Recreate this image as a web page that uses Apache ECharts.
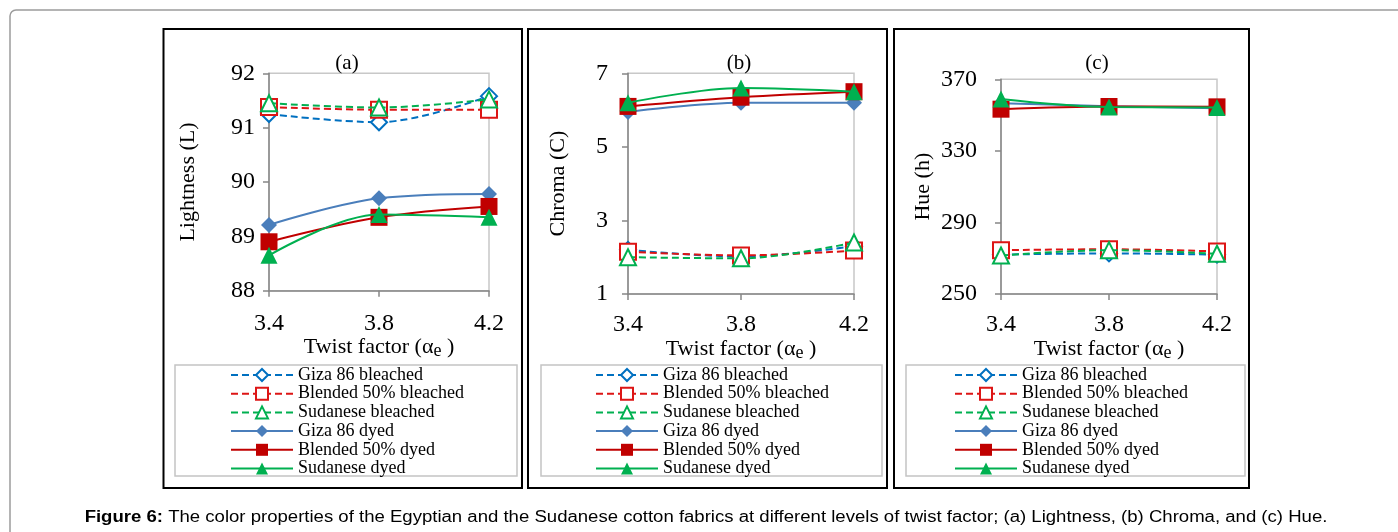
<!DOCTYPE html>
<html>
<head>
<meta charset="utf-8">
<script src="https://cdn.jsdelivr.net/npm/echarts@6/dist/echarts.min.js"></script>
<style>
  html, body { margin: 0; padding: 0; background: #fff; }
  #chart { width: 1398px; height: 532px; }
</style>
</head>
<body>
<div id="chart"></div>
<script>
// ---------- data ----------
const categories = ['3.4', '3.8', '4.2'];
const seriesNames = ['Giza 86 bleached', 'Blended 50% bleached', 'Sudanese bleached',
                     'Giza 86 dyed', 'Blended 50% dyed', 'Sudanese dyed'];

// (a) Lightness (L)
const lightGizaBleached     = [91.25, 91.10, 91.58];
const lightBlendedBleached  = [91.38, 91.33, 91.33];
const lightSudaneseBleached = [91.45, 91.37, 91.52];
const lightGizaDyed         = [89.21, 89.70, 89.78];
const lightBlendedDyed      = [88.90, 89.35, 89.55];
const lightSudaneseDyed     = [88.65, 89.40, 89.35];

// (b) Chroma (C)
const chromaGizaBleached     = [2.20, 2.02, 2.30];
const chromaBlendedBleached  = [2.15, 2.05, 2.18];
const chromaSudaneseBleached = [2.00, 1.97, 2.40];
const chromaGizaDyed         = [5.95, 6.20, 6.20];
const chromaBlendedDyed      = [6.10, 6.35, 6.50];
const chromaSudaneseDyed     = [6.20, 6.60, 6.50];

// (c) Hue (h)
const hueGizaBleached     = [272.0, 272.7, 272.0];
const hueBlendedBleached  = [274.5, 275.0, 273.8];
const hueSudaneseBleached = [271.5, 274.5, 272.5];
const hueGizaDyed         = [356.6, 355.0, 353.8];
const hueBlendedDyed      = [353.3, 354.8, 354.6];
const hueSudaneseDyed     = [359.0, 354.5, 354.3];

// tick labels
const lightTicks  = [88, 89, 90, 91, 92];
const chromaTicks = [1, 3, 5, 7];
const hueTicks    = [250, 290, 330, 370];

// ---------- styles ----------
const SERIF = "'Liberation Serif', 'Times New Roman', serif";
const SANS = "'Liberation Sans', Arial, sans-serif";
const colors  = ['#0070C0', '#DD1515', '#00B050', '#4A7EBB', '#C00000', '#00B050'];
const symbols = ['emptyDiamond', 'emptyRect', 'emptyTriangle', 'diamond', 'rect', 'triangle'];
const sizes   = [16, 16, 16, 16, 17, 17];
const dashed  = [true, true, true, false, false, false];

const panels = [
  { title: '(a)', titleX: 342, yName: 'Lightness (L)', nameGap: 70, ticks: lightTicks,
    yMargin: 14, xMargin: 21, xNameGap: 46,
    grid: { left: 269, top: 73.3, width: 220, height: 217.4 },
    data: [lightGizaBleached, lightBlendedBleached, lightSudaneseBleached,
           lightGizaDyed, lightBlendedDyed, lightSudaneseDyed],
    legendLeft: 230, box: [163.5, 175] },
  { title: '(b)', titleX: 734, yName: 'Chroma (C)', nameGap: 59, ticks: chromaTicks,
    yMargin: 20, xMargin: 19, xNameGap: 44,
    grid: { left: 628, top: 73.3, width: 226, height: 220.7 },
    data: [chromaGizaBleached, chromaBlendedBleached, chromaSudaneseBleached,
           chromaGizaDyed, chromaBlendedDyed, chromaSudaneseDyed],
    legendLeft: 595, box: [528, 541] },
  { title: '(c)', titleX: 1092, yName: 'Hue (h)', nameGap: 67, ticks: hueTicks,
    yMargin: 24, xMargin: 19, xNameGap: 44,
    grid: { left: 1001, top: 79.3, width: 216, height: 214.7 },
    data: [hueGizaBleached, hueBlendedBleached, hueSudaneseBleached,
           hueGizaDyed, hueBlendedDyed, hueSudaneseDyed],
    legendLeft: 954, box: [894, 906] }
];
const panelWidths = [358.5, 359, 355];
const legendWidths = [342, 341, 339];

const option = {
  animation: false,
  backgroundColor: '#fff',
  title: [], grid: [], xAxis: [], yAxis: [], series: [], legend: [],
  graphic: []
};

// outer frame
option.graphic.push({
  type: 'rect', silent: true, z: -10,
  shape: { x: 10, y: 10, width: 1420, height: 560, r: 6 },
  style: { fill: 'none', stroke: '#9c9c9c', lineWidth: 1.5 }
});

panels.forEach((p, i) => {
  option.graphic.push({
    type: 'rect', silent: true, z: -5,
    shape: { x: p.box[0], y: 29, width: panelWidths[i], height: 459 },
    style: { fill: 'none', stroke: '#000', lineWidth: 2 }
  });
  option.graphic.push({
    type: 'rect', silent: true, z: -5,
    shape: { x: p.box[1], y: 365, width: legendWidths[i], height: 111 },
    style: { fill: 'none', stroke: '#c4c4c4', lineWidth: 1.5 }
  });

  option.title.push({
    text: p.title, left: p.titleX, top: 48, textAlign: 'center',
    textStyle: { fontFamily: SERIF, fontSize: 21, fontWeight: 'normal', color: '#000' }
  });

  option.grid.push(Object.assign({
    show: true, borderColor: '#c8c8c8', borderWidth: 1.5, containLabel: false
  }, p.grid));

  option.xAxis.push({
    type: 'category', gridIndex: i, data: categories, boundaryGap: false,
    name: '{m|Twist factor (α}{s|e}{m| )}',
    nameLocation: 'middle', nameGap: p.xNameGap, nameMoveOverlap: false,
    nameTextStyle: {
      fontFamily: SERIF, fontSize: 22, color: '#000',
      rich: {
        m: { fontFamily: SERIF, fontSize: 22, color: '#000', lineHeight: 24, verticalAlign: 'top' },
        s: { fontFamily: SERIF, fontSize: 18, color: '#000', lineHeight: 18, padding: [9, 0, 0, 0], verticalAlign: 'bottom' }
      }
    },
    axisLine: { lineStyle: { color: '#868686', width: 1.5 } },
    axisTick: { show: true, length: 6, lineStyle: { color: '#868686', width: 1.5 } },
    axisLabel: { fontFamily: SERIF, fontSize: 24, color: '#000', margin: p.xMargin },
    splitLine: { show: false }
  });

  option.yAxis.push({
    type: 'value', gridIndex: i,
    min: p.ticks[0], max: p.ticks[p.ticks.length - 1],
    name: p.yName, nameLocation: 'middle', nameGap: p.nameGap, nameMoveOverlap: false,
    nameTextStyle: { fontFamily: SERIF, fontSize: 22, color: '#000' },
    axisLine: { show: true, lineStyle: { color: '#868686', width: 1.5 } },
    axisTick: { show: true, length: 6, customValues: p.ticks, lineStyle: { color: '#868686', width: 1.5 } },
    axisLabel: { fontFamily: SERIF, fontSize: 24, color: '#000', margin: p.yMargin, customValues: p.ticks },
    splitLine: { show: false }
  });

  p.data.forEach((vals, k) => {
    option.series.push({
      name: seriesNames[k], type: 'line', xAxisIndex: i, yAxisIndex: i,
      data: vals, smooth: 0.35,
      symbol: symbols[k], symbolSize: sizes[k],
      lineStyle: { color: colors[k], width: 2, type: dashed[k] ? [7, 4] : 'solid' },
      itemStyle: { color: colors[k], borderColor: colors[k], borderWidth: dashed[k] ? 1.6 : 0 },
      z: 2 + k
    });
  });

  option.legend.push({
    orient: 'vertical', left: p.legendLeft, top: 366, padding: 0,
    itemWidth: 62, itemHeight: 15, itemGap: 0.7,
    data: seriesNames,
    textStyle: { fontFamily: SERIF, fontSize: 18, color: '#000', lineHeight: 18 }
  });
});

// caption (reference caption is horizontally stretched)
option.graphic.push({
  type: 'text', silent: true,
  x: 706, y: 518, scaleX: 1.16, scaleY: 1,
  style: {
    x: 0, y: 0, align: 'center', verticalAlign: 'middle',
    text: '{b|Figure 6:} The color properties of the Egyptian and the Sudanese cotton fabrics at different levels of twist factor; (a) Lightness, (b) Chroma, and (c) Hue.',
    fontFamily: SANS, fontSize: 16, fill: '#000',
    rich: { b: { fontFamily: SANS, fontSize: 16, fontWeight: 'bold', fill: '#000' } }
  }
});

const chart = echarts.init(document.getElementById('chart'), null, { renderer: 'canvas' });
chart.setOption(option);
</script>
</body>
</html>
